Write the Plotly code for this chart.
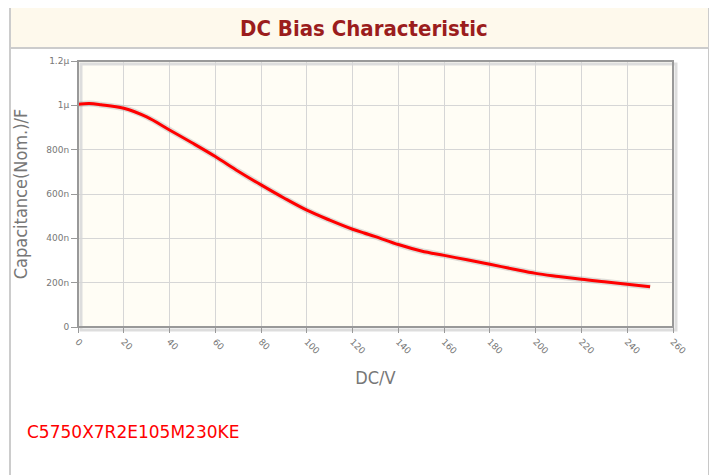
import plotly.graph_objects as go

# Data
voltage = [0, 5, 10, 20, 30, 40, 50, 60, 70, 80, 90, 100, 110, 120, 125, 130, 140,
           150, 160, 170, 180, 190, 200, 210, 220, 230, 240, 250]
capacitance = [1.005e-6, 1.008e-6, 1.003e-6, 0.987e-6, 0.948e-6, 0.889e-6, 0.830e-6,
               0.769e-6, 0.703e-6, 0.641e-6, 0.582e-6, 0.527e-6, 0.482e-6, 0.441e-6,
               0.424e-6, 0.408e-6, 0.372e-6, 0.343e-6, 0.323e-6, 0.303e-6, 0.283e-6,
               0.262e-6, 0.242e-6, 0.228e-6, 0.215e-6, 0.204e-6, 0.193e-6, 0.182e-6]

x_ticks = list(range(0, 261, 20))
y_tickvals = [0, 200e-9, 400e-9, 600e-9, 800e-9, 1e-6, 1.2e-6]
y_ticktext = ["0", "200n", "400n", "600n", "800n", "1\u00b5", "1.2\u00b5"]

title_text = "DC Bias Characteristic"
part_number = "C5750X7R2E105M230KE"

# page offset introduced by the browser's default body margin
OFF = 8
W, H = 717 - OFF, 475 - OFF
# plot area in screen pixels: x 78..673, y 61..327
L, R, T, B = 78 - OFF, 717 - 673, 61 - OFF, 475 - 327
pw, ph = W - L - R, H - T - B


def px(x):
    return (x - OFF - L) / pw


def py(y):
    return (H - B - (y - OFF)) / ph


fig = go.Figure()

# soft shadow under the curve
fig.add_trace(go.Scatter(x=voltage, y=capacitance, mode="lines",
                         line=dict(color="rgba(150,150,150,0.3)", width=6, shape="spline"),
                         hoverinfo="skip", showlegend=False))
fig.add_trace(go.Scatter(x=voltage, y=capacitance, mode="lines",
                         line=dict(color="#ff0000", width=3, shape="spline"),
                         showlegend=False))

shapes = [
    # title band
    dict(type="rect", xref="paper", yref="paper", x0=px(10), x1=px(709), y0=py(48), y1=py(7),
         fillcolor="#fef9ec", line=dict(color="#cccccc", width=2), layer="below"),
    # outer frame sides
    dict(type="line", xref="paper", yref="paper", x0=px(10), x1=px(10), y0=py(7), y1=py(480),
         line=dict(color="#cccccc", width=2)),
    dict(type="line", xref="paper", yref="paper", x0=px(709.5), x1=px(709.5), y0=py(48), y1=py(480),
         line=dict(color="#c8c8c8", width=3)),
    # plot frame shadow
    dict(type="rect", xref="paper", yref="paper", x0=px(81), x1=px(676), y0=py(330), y1=py(64),
         fillcolor="rgba(0,0,0,0)", line=dict(color="#dddddd", width=3), layer="below"),
    # plot frame
    dict(type="rect", xref="paper", yref="paper", x0=0, x1=1, y0=0, y1=1,
         line=dict(color="#999999", width=2), layer="above"),
]

annotations = [
    dict(text=f"<b>{title_text}</b>", xref="paper", yref="paper", x=px(364), y=py(28),
         showarrow=False, font=dict(family="DejaVu Sans Condensed, DejaVu Sans", size=22, color="#9b1d1d"),
         xanchor="center", yanchor="middle"),
    dict(text=part_number, xref="paper", yref="paper", x=px(25), y=py(432),
         showarrow=False, font=dict(family="DejaVu Sans", size=17, color="#ff0000"),
         xanchor="left", yanchor="middle"),
]

fig.update_layout(
    width=W, height=H,
    margin=dict(l=L, r=R, t=T, b=B),
    paper_bgcolor="white",
    plot_bgcolor="#fffdf5",
    shapes=shapes,
    annotations=annotations,
    xaxis=dict(range=[0, 260], tickvals=x_ticks, tickangle=45,
               tickfont=dict(family="DejaVu Sans", size=9, color="#777777"),
               showgrid=True, gridcolor="#d6d6d6", gridwidth=1, zeroline=False,
               ticks="outside", ticklen=5, tickcolor="#999999", showline=False,
               title=dict(text="DC/V", font=dict(family="DejaVu Sans Condensed, DejaVu Sans", size=18, color="#777777"),
                          standoff=16)),
    yaxis=dict(range=[0, 1.2e-6], tickvals=y_tickvals, ticktext=y_ticktext,
               tickfont=dict(family="DejaVu Sans", size=9, color="#777777"),
               showgrid=True, gridcolor="#d6d6d6", gridwidth=1, zeroline=False,
               ticks="outside", ticklen=6, tickcolor="#999999", showline=False,
               title=dict(text="Capacitance(Nom.)/F", font=dict(family="DejaVu Sans Condensed, DejaVu Sans", size=18, color="#777777"),
                          standoff=14)),
)

fig.write_html("out.html")
